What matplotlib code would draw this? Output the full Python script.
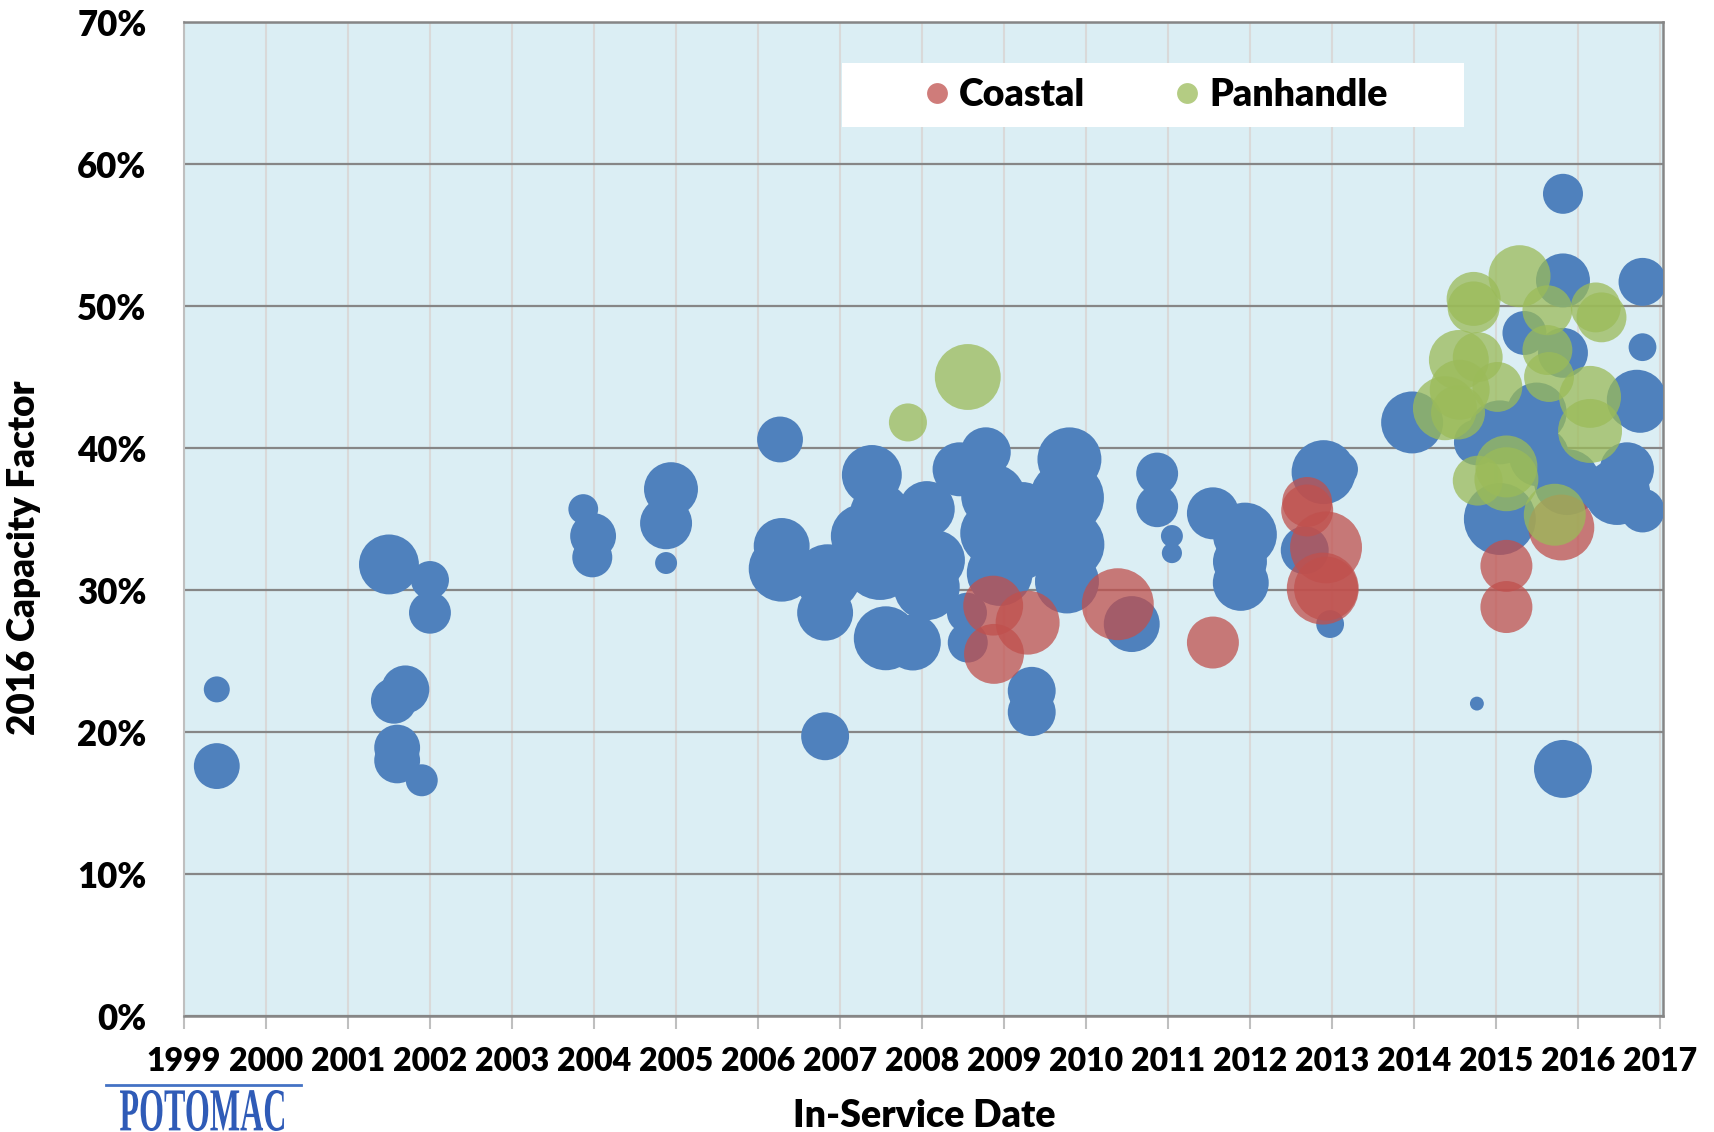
import numpy as np
import matplotlib.pyplot as plt
import matplotlib.transforms as mtransforms
from matplotlib.font_manager import FontProperties
from matplotlib.textpath import TextPath
from matplotlib.patches import PathPatch, Rectangle
from matplotlib.lines import Line2D

plt.rcParams['font.family'] = ['Lato', 'DejaVu Sans']
plt.rcParams['font.weight'] = 'heavy'

# Other regions (blue, no legend entry): in-service date, 2016 capacity factor (%), capacity (MW)
other_year = [1999.40, 1999.40, 2001.50, 2001.56, 2001.70, 2001.60, 2001.60, 2001.90, 2002.00, 2002.00,
              2003.87, 2003.99, 2003.98, 2004.88, 2004.94, 2004.88, 2006.27, 2006.29, 2006.29, 2006.82,
              2006.82, 2006.85, 2007.39, 2007.56, 2007.89, 2007.49, 2007.28, 2007.49, 2007.61, 2008.06,
              2008.06, 2008.16, 2008.46, 2008.78, 2008.87, 2008.87, 2008.95, 2008.55, 2008.56, 2009.80,
              2009.77, 2009.80, 2009.77, 2009.20, 2009.23, 2009.34, 2009.34, 2010.56, 2010.87, 2010.87,
              2011.05, 2011.05, 2011.55, 2011.94, 2011.88, 2011.89, 2012.67, 2012.90, 2013.10, 2012.98,
              2013.98, 2015.82, 2015.82, 2016.79, 2015.35, 2016.79, 2015.82, 2016.72, 2016.76, 2015.05,
              2015.50, 2015.87, 2016.60, 2016.48, 2016.79, 2014.77, 2015.05, 2015.53, 2014.77, 2015.82]
other_cf = [23.0, 17.6, 31.8, 22.2, 23.0, 18.9, 18.0, 16.6, 30.7, 28.4,
            35.7, 33.8, 32.3, 31.9, 37.1, 34.7, 40.6, 33.1, 31.5, 19.7,
            28.4, 30.9, 38.1, 26.6, 26.3, 31.9, 33.8, 35.4, 33.1, 35.7,
            30.2, 32.1, 38.5, 39.7, 36.6, 34.0, 31.2, 28.4, 26.3, 39.2,
            36.5, 33.2, 30.6, 32.8, 35.7, 22.9, 21.4, 27.6, 38.2, 35.9,
            33.8, 32.6, 35.4, 33.9, 32.0, 30.5, 32.8, 38.3, 38.5, 27.6,
            41.8, 57.9, 51.8, 51.7, 48.1, 47.1, 46.7, 43.4, 42.9, 41.1,
            42.5, 37.6, 38.5, 36.9, 35.6, 40.4, 35.0, 39.4, 22.0, 17.4]
other_mw = [35, 109, 186, 109, 119, 109, 109, 53, 75, 91,
            46, 109, 83, 25, 151, 140, 109, 162, 225, 119,
            162, 225, 186, 212, 162, 283, 212, 186, 225, 162,
            225, 186, 151, 129, 212, 225, 225, 83, 83, 212,
            283, 253, 212, 186, 151, 119, 119, 162, 91, 91,
            25, 21, 140, 212, 151, 162, 119, 212, 67, 40,
            199, 83, 151, 119, 100, 40, 129, 186, 140, 212,
            186, 225, 151, 225, 100, 109, 268, 186, 10, 174]

# Coastal
coastal_year = [2008.87, 2009.29, 2008.88, 2010.39, 2011.55, 2012.70, 2012.70, 2012.93, 2012.89, 2012.93,
                2015.80, 2015.13, 2015.13]
coastal_cf = [28.9, 27.7, 25.5, 29.0, 26.3, 36.2, 35.6, 33.0, 30.1, 30.1,
              34.4, 31.7, 28.8]
coastal_mw = [186, 212, 186, 268, 140, 129, 140, 268, 268, 212,
              225, 140, 140]

# Panhandle
panhandle_year = [2007.83, 2008.56, 2015.29, 2014.73, 2014.73, 2015.63, 2016.22, 2016.29, 2015.63, 2014.55,
                  2014.78, 2015.65, 2015.02, 2016.15, 2014.56, 2014.54, 2014.38, 2016.15, 2014.78, 2015.13,
                  2015.13, 2015.72]
panhandle_cf = [41.8, 45.0, 52.1, 50.5, 49.9, 49.7, 49.9, 49.2, 46.9, 46.2,
                46.4, 45.0, 44.3, 43.6, 44.1, 42.5, 42.8, 41.2, 37.7, 38.7,
                37.8, 35.3]
panhandle_mw = [75, 225, 199, 151, 140, 129, 129, 129, 129, 186,
                129, 129, 129, 199, 186, 151, 212, 212, 129, 199,
                212, 199]

years = list(range(1999, 2018))
cf_ticks = list(range(0, 80, 10))

SIZE = 10.0  # points^2 per MW

fig = plt.figure(figsize=(17.15, 11.32), dpi=100)
ax = fig.add_axes([184 / 1715, 116 / 1132, (1663 - 184) / 1715, (1016 - 22) / 1132])
ax.set_facecolor('#DBEEF4')

ax.scatter(other_year, other_cf, s=np.array(other_mw) * SIZE, color='#4F81BD', linewidths=0, zorder=3)
ax.scatter(coastal_year, coastal_cf, s=np.array(coastal_mw) * SIZE, color='#C0504D', alpha=0.75,
           linewidths=0, zorder=4)
ax.scatter(panhandle_year, panhandle_cf, s=np.array(panhandle_mw) * SIZE, color='#9BBB59', alpha=0.75,
           linewidths=0, zorder=5)

ax.set_xlim(1999, 2017.04)
ax.set_ylim(0, 70)
ax.set_xticks(years)
ax.set_xticklabels([str(y) for y in years])
ax.set_yticks(cf_ticks)
ax.set_yticklabels(['%d%%' % v for v in cf_ticks])

ax.grid(axis='x', color='#D9D9D9', linewidth=1.5, zorder=1)
ax.grid(axis='y', color='#868686', linewidth=1.6, zorder=2)
ax.set_axisbelow(True)

ax.spines['left'].set_color('#BFBFBF')
ax.spines['left'].set_linewidth(1.5)
for side in ['top', 'right', 'bottom']:
    ax.spines[side].set_color('#868686')
    ax.spines[side].set_linewidth(1.8)

ax.tick_params(axis='x', direction='out', length=9, width=1.5, color='#BFBFBF',
               labelsize=23, pad=13)
ax.tick_params(axis='y', length=0, labelsize=25, pad=27)
for lab in ax.get_xticklabels() + ax.get_yticklabels():
    lab.set_fontweight('heavy')

fig.text(24 / 1715, (1132 - 558) / 1132, '2016 Capacity Factor', rotation=90, ha='center', va='center',
         fontsize=26.5, fontweight='heavy')
fig.text(924 / 1715, (1132 - 1116) / 1132, 'In-Service Date', ha='center', va='center',
         fontsize=27, fontweight='heavy')

# legend: white box plus frameless legend
x0 = (842 - 184) / 1479
x1 = (1464 - 184) / 1479
y0 = (1016 - 127) / 994
y1 = (1016 - 63) / 994
ax.add_patch(Rectangle((x0, y0), x1 - x0, y1 - y0, transform=ax.transAxes, facecolor='white',
                       edgecolor='none', zorder=9))
handles = [Line2D([], [], marker='o', linestyle='none', markersize=15, color='#C0504D', alpha=0.75,
                  markeredgewidth=0),
           Line2D([], [], marker='o', linestyle='none', markersize=15, color='#9BBB59', alpha=0.75,
                  markeredgewidth=0)]
leg = ax.legend(handles, ['Coastal', 'Panhandle'], ncol=2, loc='center',
                bbox_to_anchor=((x0 + x1) / 2, (y0 + y1) / 2), frameon=False,
                prop={'size': 27, 'weight': 'heavy'}, handletextpad=0.1, columnspacing=2.2,
                borderpad=0, borderaxespad=0, handlelength=1.0)
leg.set_zorder(10)

# POTOMAC logo below the axes
fig.add_artist(Line2D([106, 301], [1132 - 1085, 1132 - 1085], transform=mtransforms.IdentityTransform(),
                      color='#4472C4', linewidth=2))
tp = TextPath((0, 0), 'POTOMAC', size=1, prop=FontProperties(family='Liberation Serif'))
ext = tp.get_extents()
sx = 164 / ext.width
sy = 41 / ext.height
tr = mtransforms.Affine2D().translate(-ext.x0, -ext.y0).scale(sx, sy).translate(120, 1132 - 1131)
fig.add_artist(PathPatch(tr.transform_path(tp), facecolor='#2F5BB7', edgecolor='none',
                         transform=mtransforms.IdentityTransform()))

fig.savefig('out.png', dpi=100)
